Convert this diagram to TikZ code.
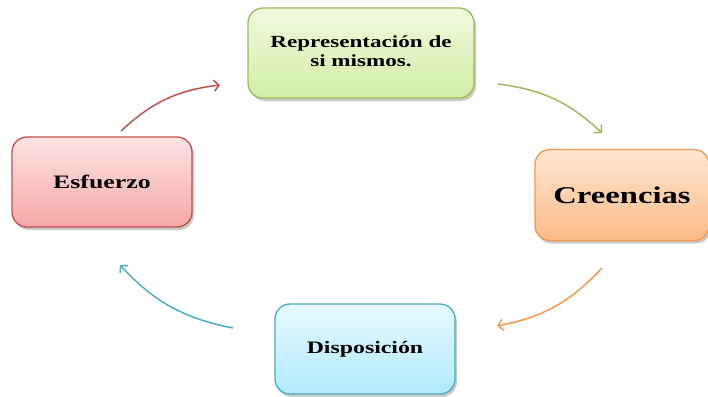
\documentclass[tikz,border=0pt]{standalone}
\usepackage{fontspec}
\setmainfont{Liberation Serif}
\usetikzlibrary{shadows,arrows.meta}
\definecolor{gB}{HTML}{9BBB59}\definecolor{gT}{HTML}{F0FADF}\definecolor{gL}{HTML}{D2EDA6}
\definecolor{oB}{HTML}{F79646}\definecolor{oT}{HTML}{FEE6D2}\definecolor{oL}{HTML}{FBBB88}
\definecolor{rB}{HTML}{C0504D}\definecolor{rT}{HTML}{FDE4E4}\definecolor{rL}{HTML}{F6A7A6}
\definecolor{bB}{HTML}{4BACC6}\definecolor{bT}{HTML}{E6F9FF}\definecolor{bL}{HTML}{B2E9FB}
\tikzset{
  boxstyle/.style={rounded corners=15pt, line width=1.3pt, shading=axis, shading angle=0,
    drop shadow={shadow xshift=2pt, shadow yshift=-3pt, opacity=0.35, fill=black!60},
    inner sep=0pt, font=\bfseries},
  flow/.style={line width=1.5pt, -{Straight Barb[length=5pt,width=11pt,line width=1.5pt]}},
}
\newcommand{\wide}[1]{\scalebox{1.36}[1]{#1}}
\begin{document}
\begin{tikzpicture}[x=1pt,y=-1pt]
\useasboundingbox (0,0) rectangle (708,396);
\node[boxstyle, draw=gB, top color=gT, bottom color=gL, minimum width=226pt, minimum height=90pt, font=\bfseries\fontsize{17}{20}\selectfont]
  (rep) at (361,53) {\begin{tabular}{@{}c@{}}\wide{Representación de}\\[-1pt]\wide{si mismos.}\end{tabular}};
\node[boxstyle, draw=oB, top color=oT, bottom color=oL, minimum width=174pt, minimum height=91pt, font=\bfseries\fontsize{24}{28}\selectfont]
  (cre) at (622,195) {\wide{Creencias}};
\node[boxstyle, draw=rB, top color=rT, bottom color=rL, minimum width=180pt, minimum height=90pt, font=\bfseries\fontsize{19}{22}\selectfont]
  (esf) at (102,182) {\wide{Esfuerzo}};
\node[boxstyle, draw=bB, top color=bT, bottom color=bL, minimum width=180pt, minimum height=90pt, font=\bfseries\fontsize{17.5}{20}\selectfont]
  (dis) at (365,349) {\wide{Disposición}};
\coordinate (r1) at (121,131); \coordinate (r2) at (220,85);
\coordinate (g1) at (498,84);  \coordinate (g2) at (602,133);
\coordinate (o1) at (602,268); \coordinate (o2) at (497,326);
\coordinate (b1) at (233,328); \coordinate (b2) at (120,265);
\draw[flow, draw=rB] (r1) to[bend left=18] (r2);
\draw[flow, draw=gB] (g1) to[bend left=18] (g2);
\draw[flow, draw=oB] (o1) to[bend left=18] (o2);
\draw[flow, draw=bB] (b1) to[bend left=18] (b2);
\end{tikzpicture}
\end{document}
